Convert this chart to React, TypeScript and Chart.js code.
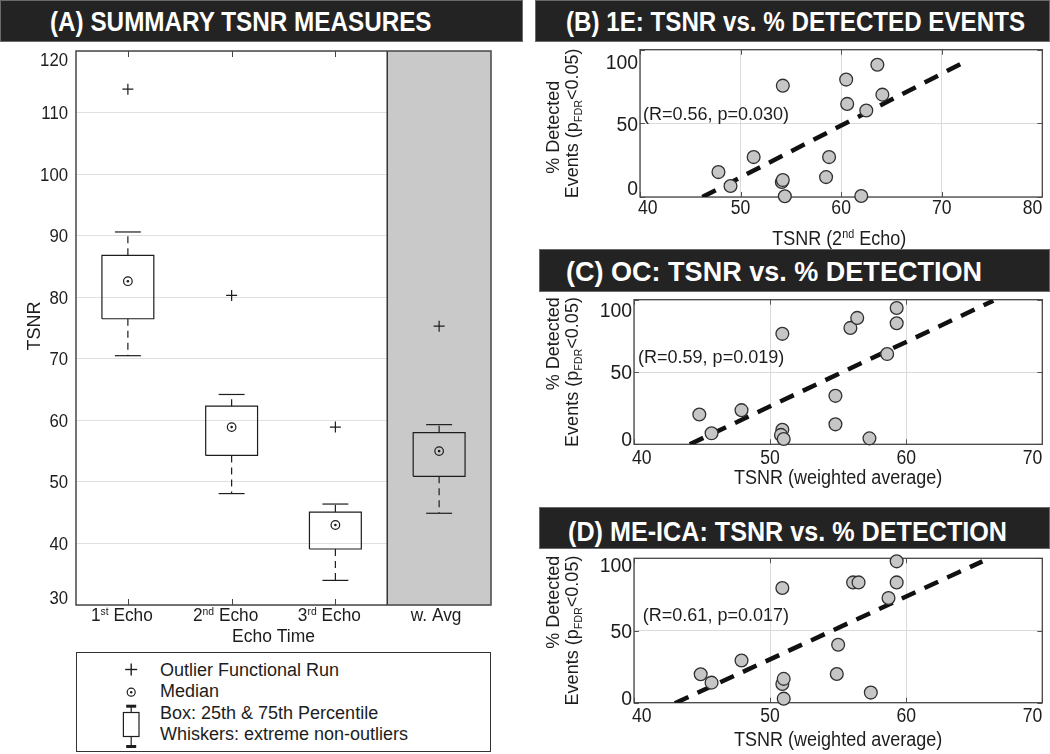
import React, { useEffect, useRef } from 'react';
import { Chart, registerables } from 'chart.js';

Chart.register(...registerables);

const FONT_FAMILY = "'Liberation Sans', Arial, Helvetica, sans-serif";
const INK = '#1d1d1d';
const GRID = '#dadada';
const FRAME = '#474747';

// ---------------- Panel A: summary box plots ----------------
const A_CATEGORIES = ['1st Echo', '2nd Echo', '3rd Echo', 'w. Avg'];
const A_LABEL_MAIN = ['1', '2', '3', 'w. Avg'];
const A_LABEL_SUP = ['st', 'nd', 'rd', ''];
const A_LABEL_REST = [' Echo', ' Echo', ' Echo', ''];
const A_WHISKER_LOW = [70.5, 48.1, 34.0, 44.9];
const A_Q1 = [76.5, 54.3, 39.1, 50.9];
const A_MEDIAN = [82.6, 58.9, 43.0, 55.0];
const A_Q3 = [86.8, 62.3, 45.1, 58.0];
const A_WHISKER_HIGH = [90.6, 64.2, 46.4, 59.3];
const A_OUTLIER = [113.8, 80.3, 58.9, 75.3];
const A_Y_TICKS = [30, 40, 50, 60, 70, 80, 90, 100, 110, 120];
const A_SHADED = 'w. Avg';

// ---------------- Panel B: 1E ----------------
const B_TSNR = [47.8, 49.0, 51.3, 54.2, 54.1, 54.2, 54.4, 58.5, 58.8, 60.5, 60.6, 62.0, 62.5, 63.6, 64.1];
const B_DETECTED = [16.9, 7.5, 27.1, 75.6, 10.2, 11.5, 0.5, 13.5, 27.1, 79.7, 63.2, 0.7, 58.7, 89.8, 69.5];
const B_FIT_TSNR = [46.2, 72.2];
const B_FIT_DETECTED = [0, 91.4];
const B_X_TICKS = [40, 50, 60, 70, 80];
const B_STATS = '(R=0.56, p=0.030)';

// ---------------- Panel C: OC ----------------
const C_TSNR = [44.8, 45.7, 47.9, 50.9, 50.9, 50.8, 51.0, 54.8, 54.8, 55.9, 56.4, 57.3, 58.6, 59.3, 59.3];
const C_DETECTED = [20.6, 7.6, 23.6, 76.4, 10.0, 6.5, 3.7, 33.5, 13.8, 80.5, 87.4, 4.1, 62.4, 94.3, 83.7];
const C_FIT_TSNR = [44.1, 66.4];
const C_FIT_DETECTED = [0, 99.3];
const C_STATS = '(R=0.59, p=0.019)';

// ---------------- Panel D: ME-ICA ----------------
const D_TSNR = [44.9, 45.7, 47.9, 50.9, 50.9, 51.0, 51.0, 55.0, 54.9, 56.1, 56.5, 57.4, 58.7, 59.3, 59.3];
const D_DETECTED = [19.7, 13.9, 29.2, 79.4, 13.0, 16.5, 2.8, 40.1, 19.9, 83.3, 83.3, 7.0, 72.5, 83.3, 97.9];
const D_FIT_TSNR = [43.0, 65.6];
const D_FIT_DETECTED = [-0.4, 97.9];
const D_STATS = '(R=0.61, p=0.017)';

const WAVG_X_TICKS = [40, 50, 60, 70];
const DETECT_TICKS = [0, 50, 100];

type Part = { t: string; k?: 'sup' | 'sub' };

const TITLE_2ND: Part[] = [{ t: 'TSNR (2' }, { t: 'nd', k: 'sup' }, { t: ' Echo)' }];
const TITLE_WAVG: Part[] = [{ t: 'TSNR (weighted average)' }];
const Y_TITLE_1: Part[] = [{ t: '% Detected' }];
const Y_TITLE_2: Part[] = [{ t: 'Events (p' }, { t: 'FDR', k: 'sub' }, { t: '<0.05)' }];

function fontStr(size: number, bold = false) {
  return `${bold ? 'bold ' : ''}${size}px ${FONT_FAMILY}`;
}

function measureRich(ctx: CanvasRenderingContext2D, parts: Part[], size: number) {
  return parts.map((p) => {
    ctx.font = fontStr(p.k ? size * 0.6 : size);
    return ctx.measureText(p.t).width;
  });
}

// y = visual centre of capitals
function drawRich(
  ctx: CanvasRenderingContext2D,
  parts: Part[],
  x: number,
  y: number,
  size: number,
  align: 'left' | 'center' | 'right' = 'center',
  sx = 1
) {
  const widths = measureRich(ctx, parts, size);
  const total = widths.reduce((s, w) => s + w, 0) * sx;
  const x0 = align === 'left' ? x : align === 'right' ? x - total : x - total / 2;
  ctx.save();
  ctx.translate(x0, y);
  ctx.scale(sx, 1);
  ctx.fillStyle = INK;
  ctx.textAlign = 'left';
  ctx.textBaseline = 'alphabetic';
  let cx = 0;
  parts.forEach((p, i) => {
    ctx.font = fontStr(p.k ? size * 0.6 : size);
    const dy = p.k === 'sup' ? -size * 0.34 : p.k === 'sub' ? size * 0.22 : 0;
    ctx.fillText(p.t, cx, size * 0.36 + dy);
    cx += widths[i];
  });
  ctx.restore();
  return total;
}

function drawRotated(
  ctx: CanvasRenderingContext2D,
  parts: Part[],
  x: number,
  y: number,
  size: number,
  align: 'left' | 'center' | 'right'
) {
  ctx.save();
  ctx.translate(x, y);
  ctx.rotate(-Math.PI / 2);
  drawRich(ctx, parts, 0, 0, size, align);
  ctx.restore();
}

const clamp = (v: number, lo: number, hi: number) => Math.max(lo, Math.min(hi, v));

// ---------------- Panel A chart ----------------
const BOX_HALF = 0.25;
const CAP_HALF = 0.125;

const panelAPlugin = {
  id: 'panelADecor',
  beforeDatasetsDraw(chart: any) {
    const { ctx, chartArea: a, scales } = chart;
    const xs = scales.x;
    const si = A_CATEGORIES.indexOf(A_SHADED) + 1;
    const x0 = xs.getPixelForValue(si - 0.5);
    ctx.save();
    ctx.fillStyle = '#c9c9c9';
    ctx.fillRect(x0, a.top, a.right - x0, a.bottom - a.top);
    ctx.strokeStyle = '#333';
    ctx.lineWidth = 1.5;
    ctx.beginPath();
    ctx.moveTo(x0, a.top);
    ctx.lineTo(x0, a.bottom);
    ctx.stroke();
    ctx.strokeStyle = '#444';
    ctx.lineWidth = 1;
    A_CATEGORIES.forEach((c, i) => {
      if (c === A_SHADED) return;
      const px = Math.round(xs.getPixelForValue(i + 1)) + 0.5;
      ctx.beginPath();
      ctx.moveTo(px, a.bottom);
      ctx.lineTo(px, a.bottom - 6);
      ctx.moveTo(px, a.top);
      ctx.lineTo(px, a.top + 6);
      ctx.stroke();
    });
    ctx.strokeStyle = FRAME;
    ctx.lineWidth = 1.5;
    ctx.strokeRect(a.left, a.top, a.right - a.left, a.bottom - a.top);
    ctx.restore();
  },
  afterDraw(chart: any) {
    const { ctx, chartArea: a, scales } = chart;
    A_Y_TICKS.forEach((v) => {
      const py = scales.y.getPixelForValue(v);
      const yc = clamp(py, a.top + 9, a.bottom - 7);
      drawRich(ctx, [{ t: String(v) }], a.left - 8, yc, 18, 'right', 0.93);
    });
    A_CATEGORIES.forEach((_, i) => {
      const px = scales.x.getPixelForValue(i + 1);
      const parts: Part[] = [{ t: A_LABEL_MAIN[i] }];
      if (A_LABEL_SUP[i]) parts.push({ t: A_LABEL_SUP[i], k: 'sup' });
      if (A_LABEL_REST[i]) parts.push({ t: A_LABEL_REST[i] });
      drawRich(ctx, parts, px - (A_LABEL_SUP[i] ? 6 : 3), a.bottom + 10, 18, 'center', 0.96);
    });
    drawRich(ctx, [{ t: 'Echo Time' }], (a.left + a.right) / 2 - 10, a.bottom + 31, 18, 'center', 0.97);
    drawRotated(ctx, [{ t: 'TSNR' }], 33.5, (a.top + a.bottom) / 2 - 2, 18, 'center');
  },
};

function panelAConfig(): any {
  const line = {
    showLine: true,
    pointRadius: 0,
    pointHoverRadius: 0,
    borderColor: INK,
    borderWidth: 1.2,
    fill: false,
    tension: 0,
  };
  const pts = (arr: number[]) => arr.map((v, i) => ({ x: i + 1, y: v }));
  const boxes = A_CATEGORIES.flatMap((_, i) => {
    const x = i + 1;
    return [
      {
        ...line,
        data: [
          { x: x - BOX_HALF, y: A_Q1[i] },
          { x: x + BOX_HALF, y: A_Q1[i] },
          { x: x + BOX_HALF, y: A_Q3[i] },
          { x: x - BOX_HALF, y: A_Q3[i] },
          { x: x - BOX_HALF, y: A_Q1[i] },
        ],
      },
      { ...line, borderDash: [7, 5], data: [{ x, y: A_Q3[i] }, { x, y: A_WHISKER_HIGH[i] }] },
      { ...line, borderDash: [7, 5], data: [{ x, y: A_Q1[i] }, { x, y: A_WHISKER_LOW[i] }] },
      { ...line, data: [{ x: x - CAP_HALF, y: A_WHISKER_HIGH[i] }, { x: x + CAP_HALF, y: A_WHISKER_HIGH[i] }] },
      { ...line, data: [{ x: x - CAP_HALF, y: A_WHISKER_LOW[i] }, { x: x + CAP_HALF, y: A_WHISKER_LOW[i] }] },
    ];
  });
  const datasets = [
    {
      data: pts(A_MEDIAN),
      pointStyle: 'circle',
      pointRadius: 1.3,
      pointBackgroundColor: INK,
      pointBorderColor: INK,
      pointBorderWidth: 0,
    },
    {
      data: pts(A_MEDIAN),
      pointStyle: 'circle',
      pointRadius: 4.3,
      pointBackgroundColor: 'rgba(0,0,0,0)',
      pointBorderColor: INK,
      pointBorderWidth: 1.2,
    },
    {
      data: pts(A_OUTLIER),
      pointStyle: 'cross',
      pointRadius: 5.5,
      pointBorderColor: INK,
      pointBorderWidth: 1.2,
    },
    ...boxes,
  ];
  return {
    type: 'scatter',
    data: { datasets },
    options: {
      animation: false,
      responsive: false,
      maintainAspectRatio: false,
      events: [],
      layout: { padding: { top: 9, right: 39, left: 0, bottom: 0 } },
      plugins: { legend: { display: false }, tooltip: { enabled: false } },
      scales: {
        x: {
          type: 'linear',
          min: 0.5,
          max: A_CATEGORIES.length + 0.5,
          ticks: { display: false },
          grid: { display: false, drawTicks: false },
          border: { display: false },
          afterFit: (s: any) => {
            s.height = 47;
          },
        },
        y: {
          type: 'linear',
          min: A_Y_TICKS[0],
          max: A_Y_TICKS[A_Y_TICKS.length - 1],
          afterBuildTicks: (s: any) => {
            s.ticks = A_Y_TICKS.map((v) => ({ value: v }));
          },
          ticks: { display: false },
          grid: { color: '#e0e0e0', drawTicks: false, lineWidth: 1 },
          border: { display: false },
          afterFit: (s: any) => {
            s.width = 76;
          },
        },
      },
    },
    plugins: [panelAPlugin],
  };
}

// ---------------- Scatter panels ----------------
interface ScatterSpec {
  tsnr: number[];
  detected: number[];
  fitX: number[];
  fitY: number[];
  xTicks: number[];
  yTicks: number[];
  xTitle: Part[];
  stats: string;
  statsAt: [number, number];
  padTop: number;
  padRight: number;
  yWidth: number;
  xHeight: number;
  xLabelDy: number;
  xTitleDx: number;
  xTitleDy: number;
  yInset: [number, number];
  yTitleMode: 'center' | 'top';
}

const Y_TITLE_SIZE = 18;

function scatterPlugin(p: ScatterSpec) {
  return {
    id: 'scatterDecor',
    beforeDatasetsDraw(chart: any) {
      const { ctx, chartArea: a, scales } = chart;
      ctx.save();
      ctx.strokeStyle = '#555';
      ctx.lineWidth = 1;
      p.xTicks.forEach((v) => {
        const px = Math.round(scales.x.getPixelForValue(v)) + 0.5;
        ctx.beginPath();
        ctx.moveTo(px, a.bottom);
        ctx.lineTo(px, a.bottom - 5);
        ctx.moveTo(px, a.top);
        ctx.lineTo(px, a.top + 5);
        ctx.stroke();
      });
      p.yTicks.forEach((v) => {
        const py = Math.round(scales.y.getPixelForValue(v)) + 0.5;
        ctx.beginPath();
        ctx.moveTo(a.left, py);
        ctx.lineTo(a.left + 5, py);
        ctx.moveTo(a.right, py);
        ctx.lineTo(a.right - 5, py);
        ctx.stroke();
      });
      ctx.strokeStyle = FRAME;
      ctx.lineWidth = 1.3;
      ctx.strokeRect(a.left, a.top, a.right - a.left, a.bottom - a.top);
      ctx.restore();
    },
    afterDraw(chart: any) {
      const { ctx, chartArea: a, scales } = chart;
      p.yTicks.forEach((v) => {
        const py = scales.y.getPixelForValue(v);
        const yc = clamp(py, a.top + p.yInset[0], a.bottom - p.yInset[1]);
        drawRich(ctx, [{ t: String(v) }], a.left - 2, yc, 20, 'right', 0.97);
      });
      p.xTicks.forEach((v) => {
        const px = scales.x.getPixelForValue(v);
        ctx.font = fontStr(20);
        const w = ctx.measureText(String(v)).width * 0.88;
        const cx = clamp(px, a.left + w / 2 - 2, a.right - w / 2);
        drawRich(ctx, [{ t: String(v) }], cx, a.bottom + p.xLabelDy, 20, 'center', 0.88);
      });
      drawRich(ctx, p.xTitle, (a.left + a.right) / 2 + p.xTitleDx, a.bottom + p.xTitleDy, 20, 'center', 0.9);
      const cy = (a.top + a.bottom) / 2;
      const w2 = measureRich(ctx, Y_TITLE_2, Y_TITLE_SIZE).reduce((s, w) => s + w, 0);
      drawRotated(ctx, Y_TITLE_2, 42, cy, Y_TITLE_SIZE, 'center');
      if (p.yTitleMode === 'center') drawRotated(ctx, Y_TITLE_1, 23, cy + 4, Y_TITLE_SIZE, 'center');
      else drawRotated(ctx, Y_TITLE_1, 23, cy - w2 / 2, Y_TITLE_SIZE, 'right');
      drawRich(
        ctx,
        [{ t: p.stats }],
        scales.x.getPixelForValue(p.statsAt[0]),
        scales.y.getPixelForValue(p.statsAt[1]),
        18,
        'left'
      );
    },
  };
}

function scatterConfig(p: ScatterSpec): any {
  return {
    type: 'scatter',
    data: {
      datasets: [
        {
          data: p.tsnr.map((x, i) => ({ x, y: p.detected[i] })),
          pointStyle: 'circle',
          pointRadius: 6.4,
          pointBackgroundColor: '#c6c6c6',
          pointBorderColor: '#303030',
          pointBorderWidth: 1.3,
          clip: false,
        },
        {
          data: p.fitX.map((x, i) => ({ x, y: p.fitY[i] })),
          showLine: true,
          pointRadius: 0,
          pointHoverRadius: 0,
          borderColor: '#111',
          borderWidth: 4.5,
          borderDash: [15, 10],
          borderCapStyle: 'butt',
          tension: 0,
        },
      ],
    },
    options: {
      animation: false,
      responsive: false,
      maintainAspectRatio: false,
      events: [],
      layout: { padding: { top: p.padTop, right: p.padRight, left: 0, bottom: 0 } },
      plugins: { legend: { display: false }, tooltip: { enabled: false } },
      scales: {
        x: {
          type: 'linear',
          min: p.xTicks[0],
          max: p.xTicks[p.xTicks.length - 1],
          afterBuildTicks: (s: any) => {
            s.ticks = p.xTicks.map((v) => ({ value: v }));
          },
          ticks: { display: false },
          grid: { color: GRID, drawTicks: false, lineWidth: 1 },
          border: { display: false },
          afterFit: (s: any) => {
            s.height = p.xHeight;
          },
        },
        y: {
          type: 'linear',
          min: p.yTicks[0],
          max: p.yTicks[p.yTicks.length - 1],
          afterBuildTicks: (s: any) => {
            s.ticks = p.yTicks.map((v) => ({ value: v }));
          },
          ticks: { display: false },
          grid: { color: GRID, drawTicks: false, lineWidth: 1 },
          border: { display: false },
          afterFit: (s: any) => {
            s.width = p.yWidth;
          },
        },
      },
    },
    plugins: [scatterPlugin(p)],
  };
}

const SPEC_B: ScatterSpec = {
  tsnr: B_TSNR,
  detected: B_DETECTED,
  fitX: B_FIT_TSNR,
  fitY: B_FIT_DETECTED,
  xTicks: B_X_TICKS,
  yTicks: DETECT_TICKS,
  xTitle: TITLE_2ND,
  stats: B_STATS,
  statsAt: [40.3, 56.7],
  padTop: 7,
  padRight: 2,
  yWidth: 110,
  xHeight: 52,
  xLabelDy: 10,
  xTitleDx: -2,
  xTitleDy: 41,
  yInset: [12, 9],
  yTitleMode: 'center',
};

const SPEC_C: ScatterSpec = {
  tsnr: C_TSNR,
  detected: C_DETECTED,
  fitX: C_FIT_TSNR,
  fitY: C_FIT_DETECTED,
  xTicks: WAVG_X_TICKS,
  yTicks: DETECT_TICKS,
  xTitle: TITLE_WAVG,
  stats: C_STATS,
  statsAt: [40.3, 60.8],
  padTop: 6.3,
  padRight: 7.3,
  yWidth: 104,
  xHeight: 62.7,
  xLabelDy: 12.4,
  xTitleDx: 0,
  xTitleDy: 32.4,
  yInset: [10, 6],
  yTitleMode: 'top',
};

const SPEC_D: ScatterSpec = {
  tsnr: D_TSNR,
  detected: D_DETECTED,
  fitX: D_FIT_TSNR,
  fitY: D_FIT_DETECTED,
  xTicks: WAVG_X_TICKS,
  yTicks: DETECT_TICKS,
  xTitle: TITLE_WAVG,
  stats: D_STATS,
  statsAt: [40.65, 60.9],
  padTop: 9.3,
  padRight: 7.3,
  yWidth: 104,
  xHeight: 51.3,
  xLabelDy: 12.3,
  xTitleDx: 0,
  xTitleDy: 35.6,
  yInset: [6, 5],
  yTitleMode: 'top',
};

// ---------------- React components ----------------
function ChartBox(props: { left: number; top: number; width: number; height: number; make: () => any }) {
  const { left, top, width, height, make } = props;
  const ref = useRef<HTMLCanvasElement>(null);
  useEffect(() => {
    if (!ref.current) return;
    const chart = new Chart(ref.current, make());
    return () => chart.destroy();
  }, [make]);
  return (
    <canvas
      ref={ref}
      width={width}
      height={height}
      style={{ position: 'absolute', left, top, width, height }}
    />
  );
}

const TITLE_BARS = [
  { text: '(A) SUMMARY TSNR MEASURES', left: 0, top: 0, width: 523, height: 42, textLeft: 50, textWidth: 382, baseline: 32 },
  { text: '(B) 1E: TSNR vs. % DETECTED EVENTS', left: 535, top: 0, width: 515, height: 42, textLeft: 566, textWidth: 459, baseline: 32 },
  { text: '(C) OC: TSNR vs. % DETECTION', left: 539, top: 249, width: 511, height: 43, textLeft: 566, textWidth: 416, baseline: 282 },
  { text: '(D) ME-ICA: TSNR vs. % DETECTION', left: 539, top: 507, width: 511, height: 42, textLeft: 568, textWidth: 439, baseline: 541.5 },
];

function TitleBar(props: { spec: (typeof TITLE_BARS)[number] }) {
  const s = props.spec;
  const c = document.createElement('canvas').getContext('2d') as CanvasRenderingContext2D;
  c.font = fontStr(27, true);
  const w = c.measureText(s.text).width;
  const sx = s.textWidth / w;
  return (
    <div
      style={{
        position: 'absolute',
        left: s.left,
        top: s.top,
        width: s.width,
        height: s.height,
        background: '#232323',
        border: '1px solid #6a6a6a',
        boxSizing: 'border-box',
      }}
    >
      <span
        style={{
          position: 'absolute',
          left: s.textLeft - s.left - 1,
          top: s.baseline - s.top - 22.86 - 1,
          font: fontStr(27, true),
          lineHeight: '27px',
          color: '#ffffff',
          whiteSpace: 'nowrap',
          transform: `scaleX(${sx})`,
          transformOrigin: 'left center',
        }}
      >
        {s.text}
      </span>
    </div>
  );
}

const LEGEND_ROWS = [
  { text: 'Outlier Functional Run', cy: 670.3 },
  { text: 'Median', cy: 691.7 },
  { text: 'Box: 25th & 75th Percentile', cy: 713.3 },
  { text: 'Whiskers: extreme non-outliers', cy: 734.5 },
];

function Legend() {
  const L = 76;
  const T = 652;
  const ix = 131.7 - L - 1.5;
  return (
    <div
      style={{
        position: 'absolute',
        left: L,
        top: T,
        width: 415,
        height: 100,
        border: '1.5px solid #333',
        boxSizing: 'border-box',
        background: '#fff',
      }}
    >
      <svg width={412} height={97} style={{ position: 'absolute', left: 0, top: 0 }}>
        <g stroke={INK} fill="none">
          <line x1={ix - 6} y1={670 - T - 1.5} x2={ix + 6} y2={670 - T - 1.5} strokeWidth={1.4} />
          <line x1={ix} y1={664 - T - 1.5} x2={ix} y2={676 - T - 1.5} strokeWidth={1.4} />
          <circle cx={ix} cy={692.7 - T - 1.5} r={4} strokeWidth={1.2} />
          <circle cx={ix} cy={692.7 - T - 1.5} r={1.2} fill={INK} stroke="none" />
          <line x1={ix - 5} y1={706.7 - T - 1.5} x2={ix + 5} y2={706.7 - T - 1.5} strokeWidth={3} />
          <line x1={ix} y1={706.7 - T - 1.5} x2={ix} y2={713 - T - 1.5} strokeWidth={1.2} />
          <rect x={ix - 7.8} y={713 - T - 1.5} width={15.6} height={24} strokeWidth={1.2} />
          <line x1={ix} y1={737 - T - 1.5} x2={ix} y2={747 - T - 1.5} strokeWidth={1.2} />
          <line x1={ix - 5} y1={747 - T - 1.5} x2={ix + 5} y2={747 - T - 1.5} strokeWidth={3} />
        </g>
      </svg>
      {LEGEND_ROWS.map((r) => (
        <span
          key={r.text}
          style={{
            position: 'absolute',
            left: 160.5 - L - 1.5,
            top: r.cy - 10 - T - 1.5,
            font: fontStr(18),
            lineHeight: '20px',
            color: INK,
            whiteSpace: 'nowrap',
          }}
        >
          {r.text}
        </span>
      ))}
    </div>
  );
}

const makeA = () => panelAConfig();
const makeB = () => scatterConfig(SPEC_B);
const makeC = () => scatterConfig(SPEC_C);
const makeD = () => scatterConfig(SPEC_D);

export default function App() {
  return (
    <div
      style={{
        position: 'absolute',
        left: 0,
        top: 0,
        width: 1050,
        height: 754,
        background: '#ffffff',
        overflow: 'hidden',
        fontFamily: FONT_FAMILY,
      }}
    >
      {TITLE_BARS.map((t) => (
        <TitleBar key={t.text} spec={t} />
      ))}
      <ChartBox left={0} top={42} width={530} height={610} make={makeA} />
      <ChartBox left={530} top={42} width={520} height={207} make={makeB} />
      <ChartBox left={530} top={292} width={520} height={215} make={makeC} />
      <ChartBox left={530} top={549} width={520} height={205} make={makeD} />
      <Legend />
    </div>
  );
}
